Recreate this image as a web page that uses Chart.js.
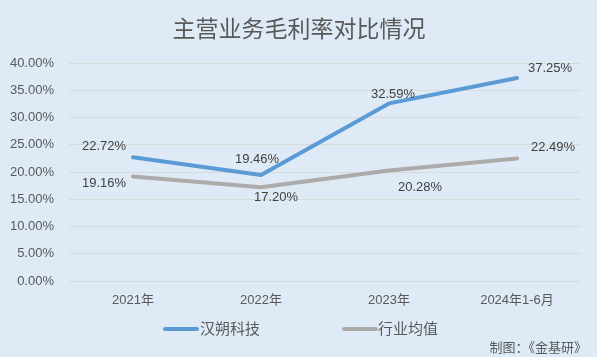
<!DOCTYPE html>
<html><head><meta charset="utf-8">
<script src="https://cdn.jsdelivr.net/npm/chart.js@4.4.1/dist/chart.umd.min.js"></script>
<style>
html,body{margin:0;padding:0;background:#deeaf6;}
#wrap{width:597px;height:357px;position:relative;}
</style></head>
<body><div id="wrap"><canvas id="c" width="597" height="357"></canvas></div>
<script>
const categories = ['2021年', '2022年', '2023年', '2024年1-6月'];
const hanshuo = [22.72, 19.46, 32.59, 37.25];
const industry = [19.16, 17.20, 20.28, 22.49];
const seriesNames = ['汉朔科技', '行业均值'];
const titleText = '主营业务毛利率对比情况';
const sourceText = '制图：《金基研》';

const FONT = '"Microsoft YaHei","Noto Sans CJK SC","Liberation Sans",sans-serif';
const TICKFONT = '"Liberation Sans","Noto Sans CJK SC",sans-serif';

// label offsets (dx, dy) relative to each point, per dataset
const labelOffsets = [
  [[-29,-11],[-4,-16],[4,-9],[33,-10]],
  [[-29,7],[15,10],[31,17],[36,-11]]
];

const decor = {
  id:'decor',
  afterDatasetsDraw(chart){
    const ctx = chart.ctx;
    ctx.save();
    ctx.font = '13px ' + TICKFONT;
    ctx.fillStyle = '#404040';
    ctx.textAlign = 'center';
    ctx.textBaseline = 'middle';
    chart.data.datasets.forEach((ds, di) => {
      const meta = chart.getDatasetMeta(di);
      meta.data.forEach((pt, i) => {
        const o = labelOffsets[di][i];
        ctx.fillText(ds.data[i].toFixed(2) + '%', pt.x + o[0], pt.y + o[1]);
      });
    });
    ctx.restore();
  },
  afterDraw(chart){
    const ctx = chart.ctx;
    ctx.save();
    ctx.font = '23px ' + FONT;
    ctx.fillStyle = '#595959';
    ctx.textAlign = 'center';
    ctx.textBaseline = 'middle';
    ctx.fillText(titleText, 299, 28);
    // legend
    ctx.font = '15px ' + FONT;
    ctx.textAlign = 'left';
    const items = [[163, 200], [342, 378]];
    chart.data.datasets.forEach((ds, di) => {
      const [lx, tx] = items[di];
      ctx.strokeStyle = ds.borderColor;
      ctx.lineWidth = 4;
      ctx.lineCap = 'round';
      ctx.beginPath(); ctx.moveTo(lx+2, 329); ctx.lineTo(lx+34, 329); ctx.stroke();
      ctx.fillStyle = '#595959';
      ctx.fillText(ds.label, tx, 328);
    });
    // source
    ctx.font = '13px ' + FONT;
    ctx.textAlign = 'right';
    ctx.fillText(sourceText, 587, 347);
    ctx.restore();
  }
};

new Chart(document.getElementById('c'), {
  type:'line',
  data:{
    labels: categories,
    datasets:[
      {label: seriesNames[0], data: hanshuo, borderColor:'#5b9bd5', borderWidth:4, pointRadius:0, tension:0, fill:false, borderCapStyle:'round', borderJoinStyle:'round'},
      {label: seriesNames[1], data: industry, borderColor:'#adaaaa', borderWidth:4, pointRadius:0, tension:0, fill:false, borderCapStyle:'round', borderJoinStyle:'round'}
    ]
  },
  options:{
    responsive:false,
    animation:false,
    devicePixelRatio:1,
    layout:{padding:{left:0, right:16, top:63, bottom:0}},
    plugins:{legend:{display:false}, title:{display:false}, tooltip:{enabled:false}},
    scales:{
      x:{
        offset:true,
        grid:{display:false, drawTicks:false},
        border:{display:false},
        ticks:{font:{size:13, family:TICKFONT}, color:'#595959', padding:12, maxRotation:0},
        afterFit(s){ s.height = 76; }
      },
      y:{
        min:0, max:40,
        grid:{color:'#d9d9d9', lineWidth:1, drawTicks:false},
        border:{display:false},
        ticks:{stepSize:5, font:{size:13, family:TICKFONT}, color:'#595959', padding:15,
          callback:v => v.toFixed(2) + '%'},
        afterFit(s){ s.width = 69; }
      }
    }
  },
  plugins:[decor]
});
</script></body></html>
